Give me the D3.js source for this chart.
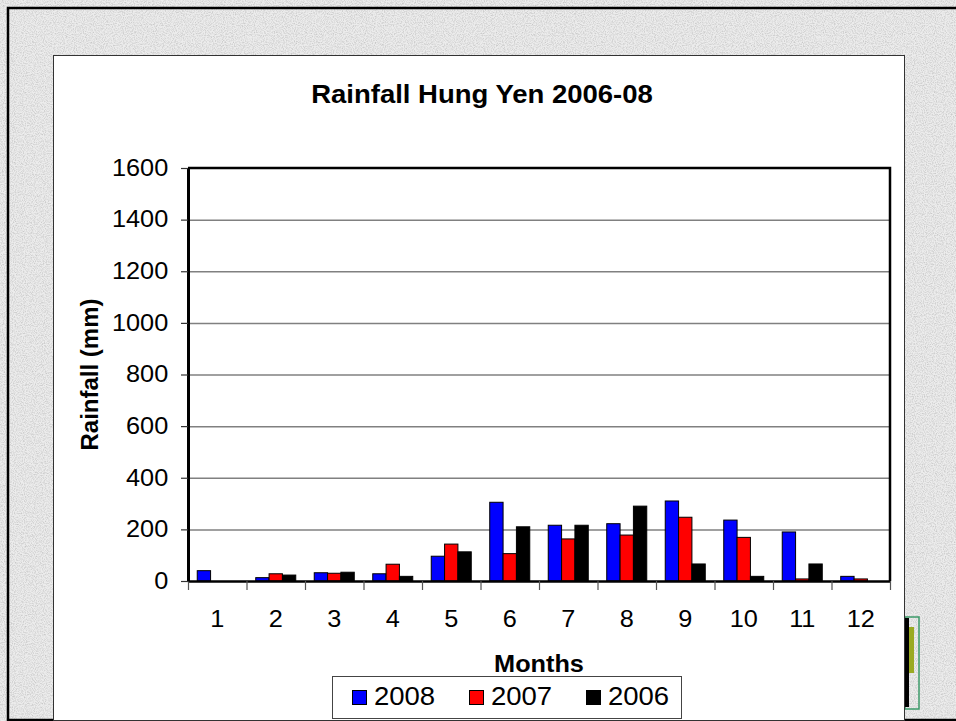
<!DOCTYPE html>
<html>
<head>
<meta charset="utf-8">
<script src="https://cdn.jsdelivr.net/npm/d3@7"></script>
<style>
  body { margin: 0; background: #fff; }
  svg text { font-family: Arial, "Liberation Sans", sans-serif; fill: #000; }
</style>
</head>
<body>
<div id="rain-graph"></div>
<script>
// values (mm)
var months = ["1", "2", "3", "4", "5", "6", "7", "8", "9", "10", "11", "12"];
var years = ["2008", "2007", "2006"];
var rain2008 = [40, 13, 32, 28, 96, 305, 216, 222, 310, 236, 190, 18];
var rain2007 = [0, 28, 30, 65, 143, 106, 163, 178, 247, 169, 8, 8];
var rain2006 = [0, 23, 34, 18, 113, 210, 216, 290, 66, 18, 66, 0];
var yTicks = [0, 200, 400, 600, 800, 1000, 1200, 1400, 1600];
var colors = ["#0000ff", "#ff0000", "#000000"];

var width = 956, height = 721;
var plot = {left: 188, right: 890, top: 168, bottom: 581};
var sx = 1.1; // text in the picture is a bit stretched sideways

var rows = months.map(function(m, i) {
    return {month: m, values: [rain2008[i], rain2007[i], rain2006[i]]};
});

var svg = d3.select("#rain-graph").append("svg")
    .attr("width", width)
    .attr("height", height);

// grey paper texture behind everything
var defs = svg.append("defs");
var noise = defs.append("filter").attr("id", "paper")
    .attr("x", 0).attr("y", 0).attr("width", "100%").attr("height", "100%");
noise.append("feTurbulence")
    .attr("type", "fractalNoise")
    .attr("baseFrequency", 0.9)
    .attr("numOctaves", 2)
    .attr("seed", 3);
noise.append("feColorMatrix")
    .attr("type", "matrix")
    .attr("values", "0 0 0 0 0  0 0 0 0 0  0 0 0 0 0  0 0 0 -0.9 0.55");

svg.append("rect").attr("width", width).attr("height", height).attr("fill", "#ececec");
svg.append("rect").attr("width", width).attr("height", height)
    .attr("filter", "url(#paper)").attr("opacity", 0.35);

// outer frame
svg.append("rect")
    .attr("x", 8).attr("y", 8)
    .attr("width", 960).attr("height", 712)
    .attr("fill", "none")
    .attr("stroke", "#000")
    .attr("stroke-width", 2.5);

// little green thing at bottom right
svg.append("rect").attr("x", 905).attr("y", 617).attr("width", 14).attr("height", 92)
    .attr("fill", "none").attr("stroke", "#3c9a6a").attr("stroke-width", 1.5);
svg.append("rect").attr("x", 904).attr("y", 618).attr("width", 5).attr("height", 89).attr("fill", "#000");
svg.append("rect").attr("x", 909).attr("y", 627).attr("width", 5).attr("height", 46).attr("fill", "#9aaa22");

// white chart area
svg.append("rect")
    .attr("x", 53.5).attr("y", 55.5)
    .attr("width", 851).attr("height", 665)
    .attr("fill", "#fff")
    .attr("stroke", "#333")
    .attr("stroke-width", 1);

var x0 = d3.scaleBand()
    .domain(months)
    .range([plot.left, plot.right])
    .paddingInner(0.316)
    .paddingOuter(0.158);

var x1 = d3.scaleBand()
    .domain(years)
    .range([0, x0.bandwidth()]);

var xEdge = d3.scaleLinear()
    .domain([0, months.length])
    .range([plot.left, plot.right]);

var y = d3.scaleLinear()
    .domain([0, 1600])
    .range([plot.bottom, plot.top]);

// gridlines
svg.append("g")
    .attr("transform", "translate(" + plot.left + ",0)")
    .call(d3.axisLeft(y).tickValues(yTicks.slice(1, -1)).tickSize(-(plot.right - plot.left)).tickFormat(""))
    .call(function(g) { g.select(".domain").remove(); })
    .selectAll("line")
    .attr("stroke", "#808080")
    .attr("stroke-width", 1.5);

// bars
var groups = svg.append("g").selectAll("g")
    .data(rows)
    .enter().append("g")
    .attr("transform", function(d) { return "translate(" + x0(d.month) + ",0)"; });

groups.selectAll("rect")
    .data(function(d) { return d.values.map(function(v, i) { return {year: years[i], value: v, color: colors[i]}; }); })
    .enter().filter(function(d) { return d.value > 0; })
    .append("rect")
    .attr("x", function(d) { return x1(d.year); })
    .attr("y", function(d) { return y(d.value); })
    .attr("width", x1.bandwidth())
    .attr("height", function(d) { return y(0) - y(d.value); })
    .attr("fill", function(d) { return d.color; })
    .attr("stroke", "#000")
    .attr("stroke-width", 1);

// plot frame top and right
svg.append("path")
    .attr("d", "M" + plot.left + "," + plot.top + "H" + plot.right + "V" + plot.bottom)
    .attr("fill", "none")
    .attr("stroke", "#000")
    .attr("stroke-width", 2.5);

// x axis: line + ticks at the category edges
svg.append("g")
    .attr("transform", "translate(0," + plot.bottom + ")")
    .call(d3.axisBottom(xEdge).tickValues(d3.range(months.length + 1)).tickSize(9).tickSizeOuter(0).tickFormat(""))
    .call(function(g) {
        g.select(".domain").attr("stroke", "#000").attr("stroke-width", 2.5);
        g.selectAll(".tick line").attr("stroke", "#555").attr("stroke-width", 1.2);
    });

// x labels
svg.append("g")
    .attr("transform", "translate(0," + plot.bottom + ")")
    .call(d3.axisBottom(x0).tickSize(0).tickPadding(30))
    .call(function(g) {
        g.select(".domain").remove();
        g.selectAll("text")
            .attr("font-size", "23px")
            .attr("font-family", "Arial, 'Liberation Sans', sans-serif")
            .attr("transform", "scale(" + sx + ",1)");
    });

// y axis
svg.append("g")
    .attr("transform", "translate(" + plot.left + ",0)")
    .call(d3.axisLeft(y).tickValues(yTicks).tickSize(7).tickSizeOuter(0).tickPadding(11).tickFormat(d3.format("d")))
    .call(function(g) {
        g.select(".domain").attr("stroke", "#000").attr("stroke-width", 3);
        g.selectAll(".tick line").attr("stroke", "#333").attr("stroke-width", 1.2);
        g.selectAll("text")
            .attr("font-size", "23px")
            .attr("font-family", "Arial, 'Liberation Sans', sans-serif")
            .attr("transform", "scale(" + sx + ",1)");
    });

// title and axis titles
svg.append("text")
    .attr("transform", "translate(482,103) scale(" + sx + ",1)")
    .attr("text-anchor", "middle")
    .attr("font-size", "25px")
    .attr("font-weight", "bold")
    .text("Rainfall Hung Yen 2006-08");

svg.append("text")
    .attr("transform", "translate(" + ((plot.left + plot.right) / 2) + ",672) scale(" + sx + ",1)")
    .attr("text-anchor", "middle")
    .attr("font-size", "23px")
    .attr("font-weight", "bold")
    .text("Months");

svg.append("text")
    .attr("transform", "translate(98," + ((plot.top + plot.bottom) / 2) + ") rotate(-90)")
    .attr("text-anchor", "middle")
    .attr("font-size", "24px")
    .attr("font-weight", "bold")
    .text("Rainfall (mm)");

// legend
var legend = svg.append("g");
legend.append("rect")
    .attr("x", 332.5).attr("y", 676.5)
    .attr("width", 349).attr("height", 42)
    .attr("fill", "#fff")
    .attr("stroke", "#444")
    .attr("stroke-width", 1);

var items = legend.selectAll("g.item")
    .data(years)
    .enter().append("g")
    .attr("class", "item")
    .attr("transform", function(d, i) { return "translate(" + (352 + i * 117) + ",0)"; });

items.append("rect")
    .attr("x", 0.5).attr("y", 690.5)
    .attr("width", 14).attr("height", 14)
    .attr("fill", function(d, i) { return colors[i]; })
    .attr("stroke", "#000")
    .attr("stroke-width", 1);

items.append("text")
    .attr("transform", "translate(22,705) scale(" + sx + ",1)")
    .attr("font-size", "25px")
    .text(function(d) { return d; });
</script>
</body>
</html>
